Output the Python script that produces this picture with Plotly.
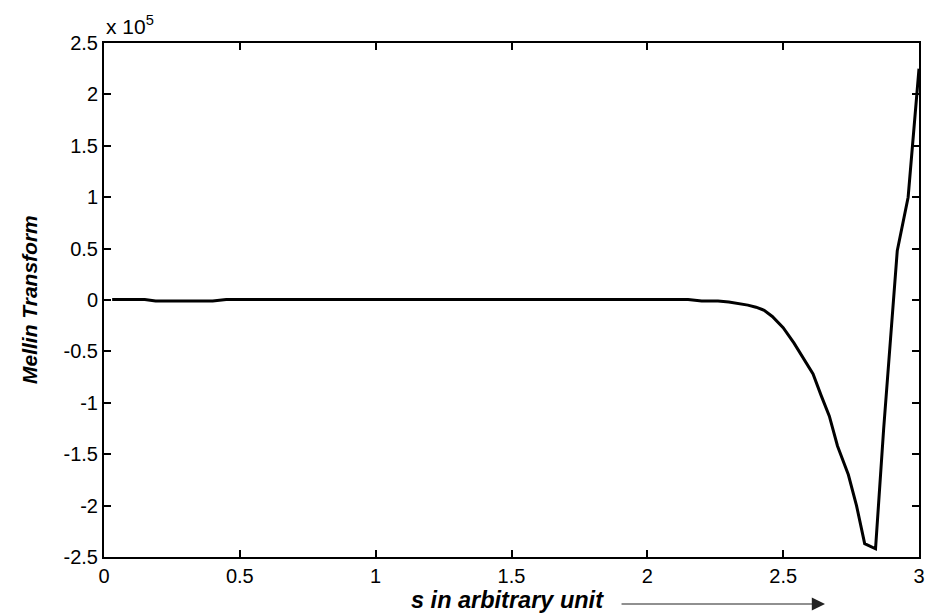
import plotly.graph_objects as go

# s values (arbitrary unit) and Mellin transform values (in units of 1e5)
s_vals = [0.03, 0.15, 0.19, 0.40, 0.45, 0.8, 1.2, 1.6, 2.0, 2.15, 2.2, 2.26, 2.30,
          2.33, 2.37, 2.40, 2.43, 2.46, 2.50, 2.54, 2.57, 2.61, 2.64, 2.67, 2.70,
          2.74, 2.77, 2.80, 2.84, 2.87, 2.92, 2.96, 3.00]
m_vals_e5 = [0.005, 0.005, -0.01, -0.01, 0.005, 0.005, 0.005, 0.005, 0.005, 0.005, -0.01, -0.01, -0.02,
             -0.03, -0.05, -0.07, -0.10, -0.16, -0.27, -0.42, -0.55, -0.72, -0.93, -1.13, -1.42,
             -1.70, -2.00, -2.37, -2.42, -1.25, 0.48, 1.00, 2.25]
m_vals = [v * 1e5 for v in m_vals_e5]

x_ticks = [0, 0.5, 1, 1.5, 2, 2.5, 3]
x_tick_text = ["0", "0.5", "1", "1.5", "2", "2.5", "3"]
y_ticks_e5 = [-2.5, -2, -1.5, -1, -0.5, 0, 0.5, 1, 1.5, 2, 2.5]
y_tick_text = ["-2.5", "-2", "-1.5", "-1", "-0.5", "0", "0.5", "1", "1.5", "2", "2.5"]

fig = go.Figure()
fig.add_trace(go.Scatter(x=s_vals, y=m_vals, mode="lines",
                         line=dict(color="black", width=3), showlegend=False))

font_family = "Liberation Sans, Arial, sans-serif"
axis_common = dict(showline=True, linecolor="black", linewidth=2, mirror="ticks",
                   ticks="inside", ticklen=7, tickwidth=1.5, tickcolor="black",
                   showgrid=False, zeroline=False,
                   tickfont=dict(family=font_family, size=20, color="black"))

fig.update_xaxes(range=[0, 3], tickvals=x_ticks, ticktext=x_tick_text, **axis_common)
fig.update_yaxes(range=[-2.5e5, 2.5e5], tickvals=[v * 1e5 for v in y_ticks_e5],
                 ticktext=y_tick_text, **axis_common)

fig.update_layout(
    width=929, height=616,
    margin=dict(l=104, r=4, t=43, b=59),
    plot_bgcolor="white", paper_bgcolor="white",
    font=dict(family=font_family, color="black"),
    annotations=[
        dict(text="x 10<sup>5</sup>", xref="paper", yref="paper", x=0.0, y=1.0,
             xanchor="left", yanchor="bottom", yshift=3, showarrow=False,
             font=dict(family=font_family, size=21, color="black")),
        dict(text="<b><i>s in arbitrary unit</i></b>", xref="paper", yref="paper",
             x=0.4945, y=-0.0837, xanchor="center", yanchor="middle", showarrow=False,
             font=dict(family=font_family, size=23.5, color="black")),
        dict(text="<b><i>Mellin Transform</i></b>", xref="paper", yref="paper",
             x=-0.092, y=0.5, textangle=-90, xanchor="center", yanchor="middle",
             showarrow=False,
             font=dict(family=font_family, size=21, color="black")),
        dict(text="", xref="paper", yref="paper", x=0.8847, y=-0.0914,
             ax=-205, ay=0, showarrow=True, arrowhead=2, arrowsize=2.2,
             arrowwidth=1.2, arrowcolor="#222222"),
    ],
)

fig.write_html("out.html", config={"displayModeBar": False},
               post_script="document.body.style.margin='0';document.body.style.overflow='hidden';")
